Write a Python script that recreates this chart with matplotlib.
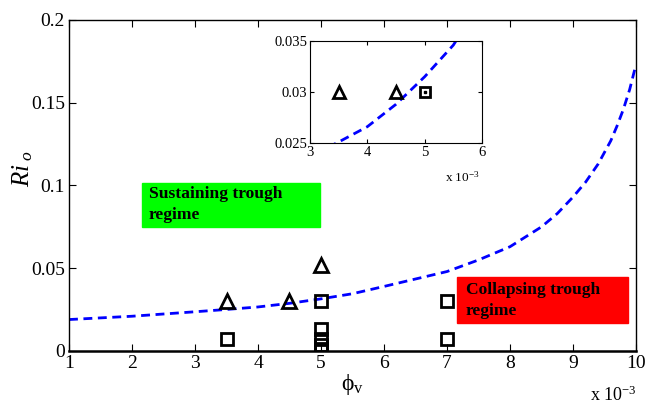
import matplotlib
matplotlib.use('Agg')
import matplotlib.pyplot as plt
from matplotlib.patches import Rectangle

plt.rcParams['font.family'] = ['Liberation Serif', 'DejaVu Serif']
plt.rcParams['mathtext.fontset'] = 'custom'
plt.rcParams['mathtext.rm'] = 'Liberation Serif'
plt.rcParams['mathtext.it'] = 'Liberation Serif:italic'

# boundary curve (phi_v in units of 1e-3)
curve_x = [1, 2, 3, 3.5, 4, 4.5, 5, 5.5, 6, 6.5, 7, 7.5, 8, 8.5, 8.75, 9,
           9.2, 9.4, 9.6, 9.7, 9.8, 9.9, 10]
curve_y = [0.019, 0.021, 0.0237, 0.0251, 0.0266, 0.0288, 0.0315, 0.0346, 0.039,
           0.0435, 0.048, 0.055, 0.063, 0.075, 0.083, 0.093,
           0.102, 0.113, 0.127, 0.136, 0.146, 0.158, 0.173]

# sustaining cases (triangles)
tri_x = [3.5, 4.5, 5]
tri_y = [0.030, 0.030, 0.052]

# collapsing cases (squares)
sq_x = [3.5, 5, 5, 5, 5, 5, 7, 7]
sq_y = [0.007, 0.030, 0.013, 0.007, 0.0036, 0.001, 0.030, 0.007]

x_ticks = [1, 2, 3, 4, 5, 6, 7, 8, 9, 10]
y_ticks = [0, 0.05, 0.1, 0.15, 0.2]
y_ticklabels = ['0', '0.05', '0.1', '0.15', '0.2']

inset_x_ticks = [3, 4, 5, 6]
inset_y_ticks = [0.025, 0.03, 0.035]
inset_y_ticklabels = ['0.025', '0.03', '0.035']

fig = plt.figure(figsize=(6.45, 4.07), dpi=100)
ax = fig.add_axes([0.107, 0.1376, 0.879, 0.8134])

ax.plot(curve_x, curve_y, '--', color='#0000ff', lw=2.0, dashes=(3.2, 2))
ax.plot(tri_x, tri_y, '^', ms=10, mfc='none', mec='k', mew=2)
ax.plot(sq_x, sq_y, 's', ms=9, mfc='none', mec='k', mew=2)

ax.set_xlim(1, 10)
ax.set_ylim(0, 0.2)
ax.set_xticks(x_ticks)
ax.set_yticks(y_ticks)
ax.set_yticklabels(y_ticklabels)
ax.tick_params(direction='in', top=True, right=True, labelsize=14, length=5, pad=3)
for s in ax.spines.values():
    s.set_linewidth(1.0)
ax.spines['bottom'].set_linewidth(1.8)

ax.set_ylabel(r'$Ri_{\ o}$', fontsize=18)
ax.yaxis.set_label_coords(-0.06, 0.55)
ax.set_xlabel(r'$\mathrm{\phi}_{\mathrm{v}}$', fontsize=17, labelpad=0)
fig.text(0.915, 0.015, r'x 10$^{-3}$', fontsize=13)

# regime labels
ax.add_patch(Rectangle((2.16, 0.075), 2.82, 0.0266, color='#00ff00', zorder=1))
ax.text(2.27, 0.0885, 'Sustaining trough\nregime', fontsize=12.6, fontweight='bold',
        va='center', ha='left', linespacing=1.35, zorder=2)
ax.add_patch(Rectangle((7.16, 0.017), 2.71, 0.0277, color='#ff0000', zorder=1))
ax.text(7.3, 0.0305, 'Collapsing trough\nregime', fontsize=12.6, fontweight='bold',
        va='center', ha='left', linespacing=1.35, zorder=2)

# inset zoom
ins = fig.add_axes([0.4806, 0.6486, 0.2667, 0.2506])
ins.plot(curve_x, curve_y, '--', color='#0000ff', lw=2.0, dashes=(3.2, 2))
ins.plot(tri_x, tri_y, '^', ms=8, mfc='none', mec='k', mew=2)
ins.plot(sq_x, sq_y, 's', ms=7, mfc='none', mec='k', mew=2)
ins.plot([5], [0.03], 's', ms=1.5, color='k')
ins.set_xlim(3, 6)
ins.set_ylim(0.025, 0.035)
ins.set_xticks(inset_x_ticks)
ins.set_yticks(inset_y_ticks)
ins.set_yticklabels(inset_y_ticklabels)
ins.tick_params(direction='in', top=True, right=True, labelsize=10.5, length=3, pad=2)
fig.text(0.69, 0.553, r'x 10$^{-3}$', fontsize=9.5)

fig.savefig('out.png', dpi=100)
